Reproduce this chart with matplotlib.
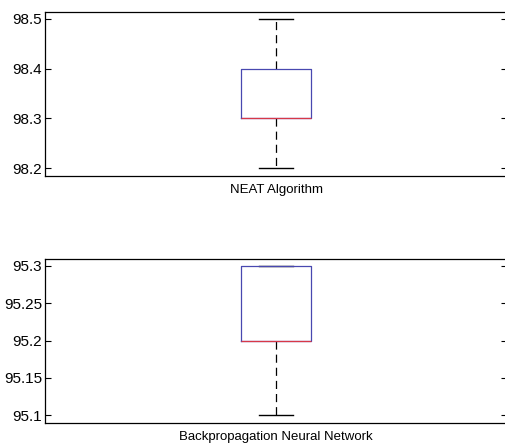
import matplotlib
matplotlib.use("Agg")
import matplotlib.pyplot as plt

plt.rcParams['font.family'] = ['Liberation Sans', 'DejaVu Sans']

categories = ["NEAT Algorithm", "Backpropagation Neural Network"]
whislo = [98.2, 95.1]
q1 = [98.3, 95.2]
med = [98.3, 95.2]
q3 = [98.4, 95.3]
whishi = [98.5, 95.3]
yticks = [[98.2, 98.3, 98.4, 98.5], [95.1, 95.15, 95.2, 95.25, 95.3]]
yticklabels = [["98.2", "98.3", "98.4", "98.5"], ["95.1", "95.15", "95.2", "95.25", "95.3"]]
ylims = [(98.184, 98.514), (95.0893, 95.3094)]

fig = plt.figure(figsize=(5.05, 4.46), dpi=100)
positions = [[0.0891, 0.6054, 0.915, 0.3677], [0.0891, 0.0516, 0.915, 0.3677]]

for i in range(2):
    ax = fig.add_axes(positions[i])
    stats = [dict(med=med[i], q1=q1[i], q3=q3[i], whislo=whislo[i], whishi=whishi[i], fliers=[], label=categories[i])]
    res = ax.bxp(stats, positions=[1], widths=0.15, showfliers=False,
                 boxprops=dict(color='#4848b0', linewidth=0.9),
                 medianprops=dict(color='#d83848', linewidth=0.9),
                 whiskerprops=dict(color='black', linewidth=0.9, linestyle=(0, (6.5, 4))),
                 capprops=dict(color='black', linewidth=1.0),
                 capwidths=0.075, manage_ticks=False)
    for b in res['boxes']:
        b.set_zorder(3)
    for m in res['medians']:
        m.set_zorder(4)
    ax.set_xlim(0.5, 1.5)
    ax.set_ylim(*ylims[i])
    ax.set_yticks(yticks[i])
    ax.set_yticklabels(yticklabels[i])
    ax.set_xticks([1])
    ax.set_xticklabels([categories[i]])
    ax.tick_params(axis='y', direction='in', length=4, left=True, right=True, labelsize=11, pad=2)
    ax.tick_params(axis='x', length=0, labelsize=9.5, pad=6)
    for s in ax.spines.values():
        s.set_linewidth(0.9)

fig.savefig("out.png", dpi=100)
